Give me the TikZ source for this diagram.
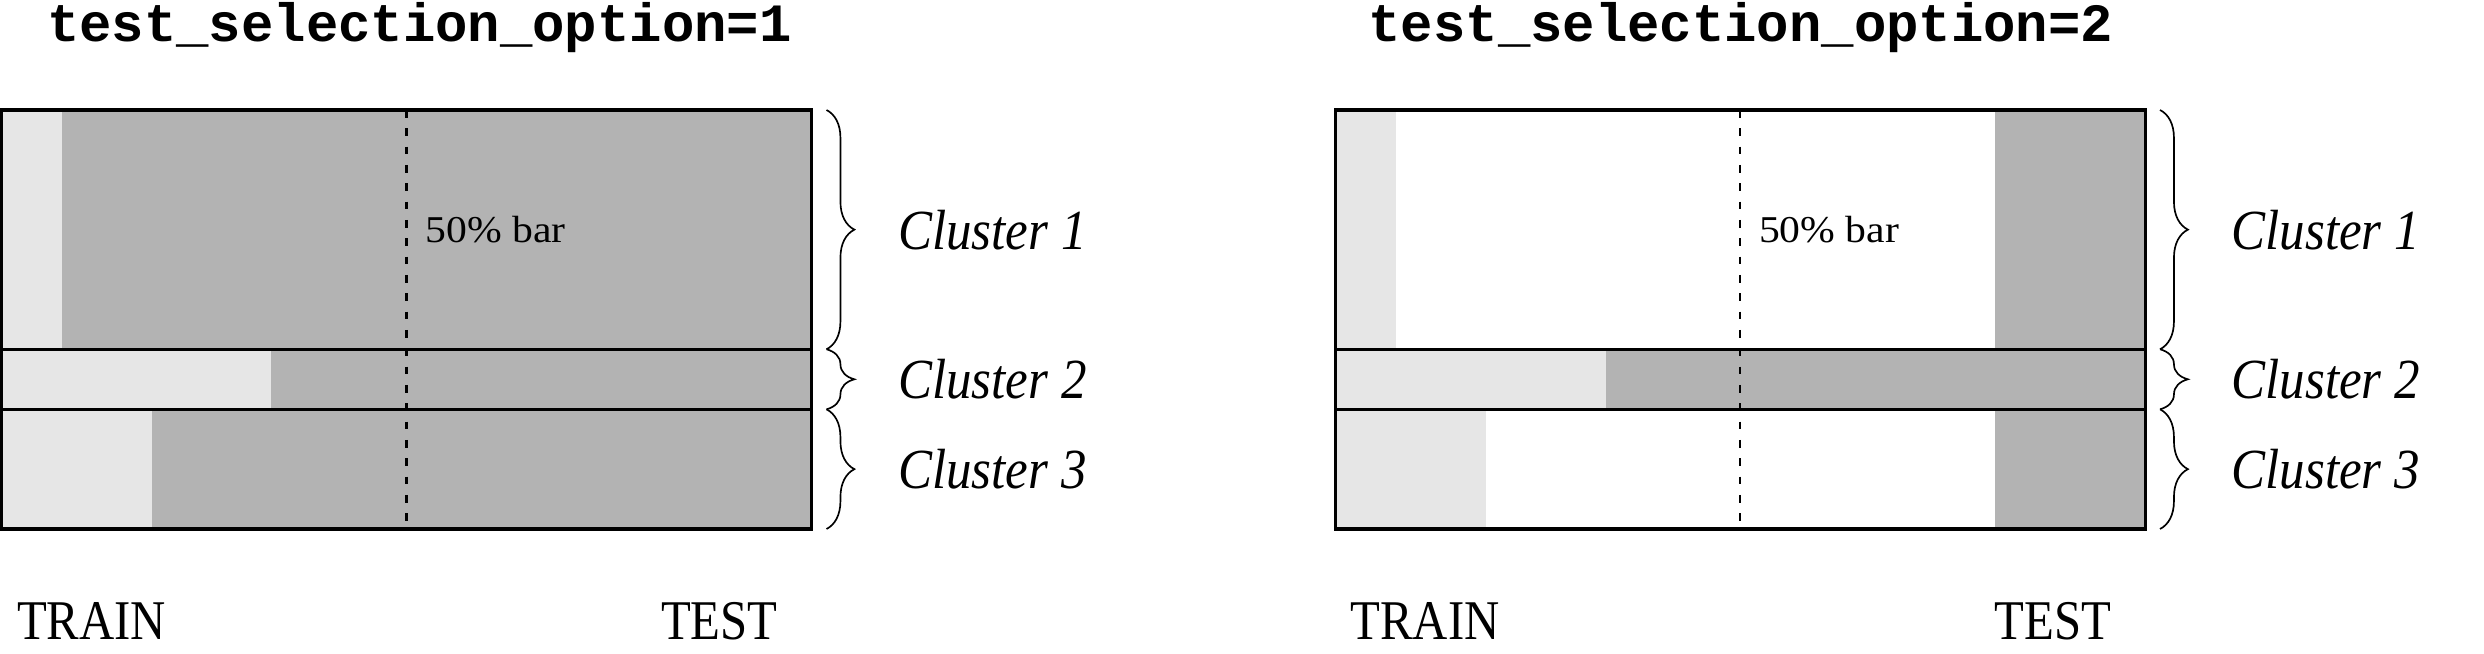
\documentclass[tikz,border=0pt]{standalone}
\usepackage{fontspec}
\usepackage{graphicx}
\setmainfont{Liberation Serif}
\newfontfamily\titlefont{Liberation Mono}
\usetikzlibrary{decorations.pathreplacing}
\definecolor{trainc}{gray}{0.902}
\definecolor{testc}{gray}{0.702}
\tikzset{
  boxline/.style={line width=1pt, line cap=rect},
  midbar/.style={line width=0.75pt, dash pattern=on 2.55pt off 3.5pt},
  clbrace/.style={decorate, decoration={brace, amplitude=9.2pt}, line width=0.55pt},
  titlelbl/.style={anchor=base west, inner sep=0pt, font=\titlefont\fontsize{17.8pt}{20pt}\selectfont\bfseries},
  cluslbl/.style={anchor=base west, inner sep=0pt, font=\fontsize{18.7pt}{22pt}\selectfont\itshape},
  axislbl/.style={anchor=base west, inner sep=0pt, font=\fontsize{18.5pt}{22pt}\selectfont},
  barlbl/.style={anchor=base west, inner sep=0pt, font=\fontsize{12.5pt}{15pt}\selectfont},
}
\newcommand{\panelframe}{%
  \coordinate (tl) at (0,110);
  \coordinate (tr) at (810,110);
  \coordinate (l12) at (0,349.3);
  \coordinate (r12) at (810,349.3);
  \coordinate (l23) at (0,409.3);
  \coordinate (r23) at (810,409.3);
  \coordinate (bl) at (0,529);
  \coordinate (br) at (810,529);
  \coordinate (mtop) at (405,110);
  \coordinate (mbot) at (405,529);
  \coordinate (b0) at (825,110);
  \coordinate (b1) at (825,349.3);
  \coordinate (b2) at (825,409.3);
  \coordinate (b3) at (825,529);
  \draw[midbar] (mtop) -- (mbot);
  \draw[boxline] (tl) rectangle (br);
  \draw[boxline] (l12) -- (r12);
  \draw[boxline] (l23) -- (r23);
  \draw[clbrace] (b0) -- (b1);
  \draw[clbrace] (b1) -- (b2);
  \draw[clbrace] (b2) -- (b3);
  \node[barlbl] (bar) at (423.5,242.3) {\scalebox{1.1}[1]{50\% bar}};
  \node[cluslbl] (c1) at (896,249.3) {\scalebox{0.9}[1]{Cluster 1}};
  \node[cluslbl] (c2) at (896,398.5) {\scalebox{0.9}[1]{Cluster 2}};
  \node[cluslbl] (c3) at (896,488.5) {\scalebox{0.9}[1]{Cluster 3}};
  \node[axislbl] (train) at (15,640) {\scalebox{0.87}[1]{TRAIN}};
  \node[axislbl] (test) at (659,640) {\scalebox{0.87}[1]{TEST}};
}
\begin{document}
\begin{tikzpicture}[x=0.33pt,y=-0.33pt]
\useasboundingbox (0,0) rectangle (2484,654);
% left panel
\begin{scope}[shift={(1.5,0)}]
  \fill[testc] (0,110) rectangle (810,529);
  \fill[trainc] (0,110) rectangle (60,349.3);
  \fill[trainc] (0,349.3) rectangle (269.5,409.3);
  \fill[trainc] (0,409.3) rectangle (150,529);
  \node[titlelbl] (title1) at (45,42) {test\_selection\_option=1};
  \panelframe
\end{scope}
% right panel
\begin{scope}[shift={(1335,0)}]
  \fill[testc] (660,110) rectangle (810,529);
  \fill[testc] (0,349.3) rectangle (810,409.3);
  \fill[trainc] (0,110) rectangle (60.5,349.3);
  \fill[trainc] (0,349.3) rectangle (271,409.3);
  \fill[trainc] (0,409.3) rectangle (150.5,529);
  \node[titlelbl] (title2) at (33,42) {test\_selection\_option=2};
  \panelframe
\end{scope}
\end{tikzpicture}
\end{document}
